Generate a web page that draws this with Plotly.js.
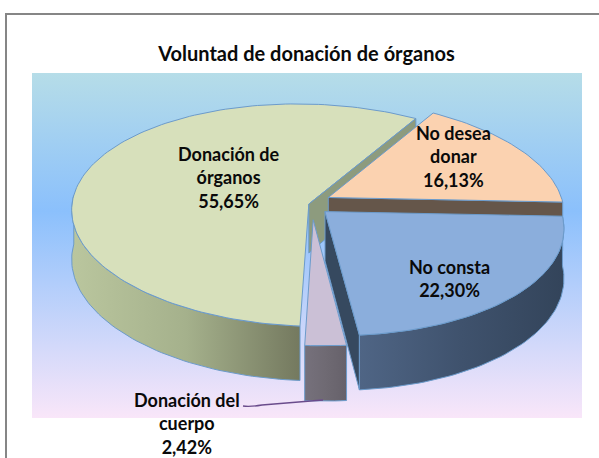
<!DOCTYPE html>
<html><head><meta charset="utf-8">
<script src="https://cdn.plot.ly/plotly-3.0.1.min.js"></script>
<style>html,body{margin:0;padding:0;background:#fff;overflow:hidden}#c{width:599px;height:458px}</style>
</head><body><div id="c"></div>
<script>
// Data
const titleText = 'Voluntad de donación de órganos';
const categories = ['Donación de<br>órganos', 'No desea<br>donar', 'No consta', 'Donación del<br>cuerpo'];
const values = [55.65, 16.13, 22.30, 2.42];

// Styles
const topColors = ['#D7E0BB', '#FBD2B0', '#8BAEDC', '#CBC0D6'];
const cutColors = ['#8D9B7E', '#65564A', '#36495F', '#6F6A73'];
const wallGradients = [['#BAC69E', '#A5B18C', '#74795F'], ['#65564A', '#65564A', '#65564A'], ['#4F6585', '#3F526D', '#33445A'], ['#76717C', '#6F6A73', '#66616A']];
const explodeU = [0.012, 0.095, 0.08, 0.03];
const explodeV = [0, 0.064, -0.065, -0.14];
const wallArcEnd = [272, 90, 90, 181];
const startAngle = 182;
const outline = '#6C9BCB';
const font = 'Lato, Carlito, "Open Sans", sans-serif';

// Projection of the tilted disc through the plot's pixel-sized axes
const cx = 306, cy = 204, Rx = 236, Ry = 110, persp = 0.1, depth = 49, roll = 5;
function project(u, v, down) {
  const s = 1 / (1 + persp * v);
  return [cx + Rx * u * s, cy - Ry * v * s + roll * u + (down ? depth * s : 0)];
}
const total = values.reduce((a, b) => a + b, 0);
let cum = startAngle;
const sweeps = values.map(v => { const a = cum; cum += v / total * 360; return [a, cum]; });
function rim(i, a) {
  const r = a * Math.PI / 180;
  return [explodeU[i] + Math.sin(r), explodeV[i] + Math.cos(r)];
}
function arc(i, a0, a1) {
  const n = Math.max(2, Math.ceil(Math.abs(a1 - a0) / 1.5)), out = [];
  for (let k = 0; k <= n; k++) out.push(rim(i, a0 + (a1 - a0) * k / n));
  return out;
}
function poly(name, pts, color, gradient, lineColor) {
  const t = { type: 'scatter', mode: 'lines', name, x: pts.map(p => p[0]).concat(pts[0][0]), y: pts.map(p => p[1]).concat(pts[0][1]),
    fill: 'toself', fillcolor: color || 'rgba(0,0,0,0)', line: { color: lineColor || outline, width: 1 }, hoverinfo: 'skip', showlegend: false };
  if (gradient) {
    const cs = gradient.map((c, k) => [k / (gradient.length - 1), c]);
    t.fillgradient = { type: 'horizontal', colorscale: cs };
  }
  return t;
}
function topFace(i) {
  const pts = [project(explodeU[i], explodeV[i], false)];
  arc(i, sweeps[i][0], sweeps[i][1]).forEach(p => pts.push(project(p[0], p[1], false)));
  return poly(categories[i] + ' top', pts, topColors[i]);
}
function wall(i, a0, a1) {
  const a = arc(i, a0, a1);
  const pts = a.map(p => project(p[0], p[1], false)).concat(a.slice().reverse().map(p => project(p[0], p[1], true)));
  return poly(categories[i] + ' wall', pts, wallGradients[i][0], wallGradients[i]);
}
function cutFace(i, ang) {
  const e = rim(i, ang), ax = explodeU[i], ay = explodeV[i];
  return poly(categories[i] + ' cut', [project(ax, ay, false), project(e[0], e[1], false), project(e[0], e[1], true), project(ax, ay, true)], cutColors[i]);
}

const bgStops = ['#B6DDE8', '#8BC0FC', '#F9E6F9'];
const bgX = [32, 582, 582, 32], bgY = [73, 73, 418, 418];
const bg = { type: 'scatter', mode: 'lines', x: bgX.concat(32), y: bgY.concat(73), fill: 'toself', line: { width: 0 }, hoverinfo: 'skip', showlegend: false,
  fillcolor: '#8BC0FC', fillgradient: { type: 'vertical', colorscale: [[0, bgStops[2]], [0.6, bgStops[1]], [1, bgStops[0]]] } };

const traces = [
  bg,
  wall(0, sweeps[0][0], wallArcEnd[0]),
  topFace(0),
  cutFace(0, sweeps[0][1]),
  cutFace(1, sweeps[1][1]),
  topFace(1),
  cutFace(2, sweeps[2][1]),
  wall(2, Math.max(sweeps[2][0], 92), sweeps[2][1]),
  topFace(2),
  wall(3, sweeps[3][0], sweeps[3][1]),
  topFace(3)
];

const fmt = v => v.toFixed(2).replace('.', ',') + '%';
const labelX = [229, 453, 449, 187], labelY = [177, 156, 278, 423];
const annotations = categories.map((c, i) => ({
  x: labelX[i], y: labelY[i], xref: 'x', yref: 'y', text: '<b>' + c + '<br>' + fmt(values[i]) + '</b>', showarrow: false,
  align: 'center', xanchor: 'center', yanchor: 'middle', font: { family: font, size: 18, color: '#0A0A0A' }
}));

const layout = {
  width: 599, height: 458, margin: { l: 0, r: 0, t: 0, b: 0 }, paper_bgcolor: '#fff', plot_bgcolor: '#fff', showlegend: false,
  title: { text: '<b>' + titleText + '</b>', x: 306.5 / 599, xanchor: 'center', y: 1 - 54 / 458, yanchor: 'middle', font: { family: font, size: 20, color: '#0A0A0A' } },
  xaxis: { range: [0, 599], visible: false, fixedrange: true },
  yaxis: { range: [458, 0], visible: false, fixedrange: true },
  annotations,
  shapes: [
    { type: 'path', path: 'M6,458 L6,14 L599,14', line: { color: '#868686', width: 2 }, layer: 'below' },
    { type: 'path', path: 'M243,406 Q250,407 262,405 L323,400', line: { color: '#6A4C8C', width: 1.3 } }
  ]
};
Plotly.newPlot('c', traces, layout, { staticPlot: true, displayModeBar: false });
</script></body></html>
